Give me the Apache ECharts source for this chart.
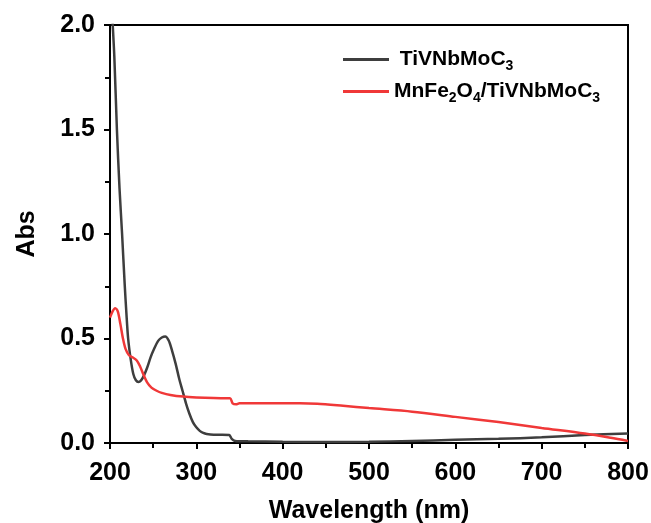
<!DOCTYPE html>
<html>
<head>
<meta charset="utf-8">
<script src="https://cdn.jsdelivr.net/npm/echarts@6/dist/echarts.min.js"></script>
<style>
  html, body { margin: 0; padding: 0; background: #ffffff; }
  #chart { width: 651px; height: 523px; }
</style>
</head>
<body>
<div id="chart"></div>
<script>
// UV-vis absorption spectra

var SERIES_NAMES = ['TiVNbMoC3', 'MnFe2O4/TiVNbMoC3'];
var X_TICKS = [200, 300, 400, 500, 600, 700, 800];
var Y_TICKS = [0.0, 0.5, 1.0, 1.5, 2.0];

// TiVNbMoC3 (dark grey)
var blackWl = [200, 202, 205, 208, 211, 214, 217, 219, 221, 224, 227, 230, 233, 236, 239,
  243, 247, 251, 256, 260, 264, 268, 272, 276, 280, 284, 288, 292, 296, 300, 304, 308,
  312, 320, 330, 338, 341, 345, 360, 400, 450, 500, 550, 600, 650, 700, 750, 800];
var blackAbs = [2.4, 2.1, 1.85, 1.5, 1.22, 1.0, 0.76, 0.62, 0.5, 0.4, 0.33, 0.3, 0.292, 0.3, 0.32,
  0.36, 0.41, 0.45, 0.49, 0.505, 0.51, 0.49, 0.44, 0.38, 0.31, 0.25, 0.19, 0.14, 0.1, 0.075, 0.058, 0.048,
  0.043, 0.04, 0.04, 0.038, 0.02, 0.01, 0.008, 0.006, 0.005, 0.006, 0.01, 0.015, 0.02, 0.027, 0.038, 0.045];

// MnFe2O4/TiVNbMoC3 (red)
var redWl = [200, 203, 206, 209, 212, 215, 218, 222, 226, 231, 235, 239, 243, 248, 254, 260,
  270, 285, 300, 320, 339, 342, 346, 350, 380, 420, 440, 470, 500, 550, 600, 650, 700, 750, 780, 800];
var redAbs = [0.6, 0.63, 0.645, 0.63, 0.57, 0.5, 0.45, 0.42, 0.41, 0.395, 0.365, 0.325, 0.29, 0.265, 0.25, 0.24,
  0.23, 0.222, 0.218, 0.215, 0.214, 0.19, 0.185, 0.19, 0.19, 0.19, 0.188, 0.178, 0.167, 0.15, 0.125, 0.1, 0.072, 0.045, 0.025, 0.01];

var COLORS = { black: '#3e3e3e', red: '#f03838', axis: '#000000' };
var FONT = '"Liberation Sans", Arial, sans-serif';

function pairs(xs, ys) {
  return xs.map(function(x, i) { return [x, ys[i]]; });
}

var legendRich = {
  main: { fontFamily: FONT, fontSize: 21, fontWeight: 'bold', color: '#000', verticalAlign: 'middle' },
  sub: { fontFamily: FONT, fontSize: 14, fontWeight: 'bold', color: '#000', padding: [13, 0, 0, 0], verticalAlign: 'bottom' }
};

function legendFormatter(name) {
  if (name === SERIES_NAMES[0]) return '{main| TiVNbMoC}{sub|3}';
  return '{main|MnFe}{sub|2}{main|O}{sub|4}{main|/TiVNbMoC}{sub|3}';
}

var chart = echarts.init(document.getElementById('chart'));

chart.setOption({
  animation: false,
  backgroundColor: '#ffffff',
  grid: {
    left: 110, right: 23, top: 25, bottom: 80,
    outerBoundsMode: 'none',
    containLabel: false,
    show: true, borderColor: COLORS.axis, borderWidth: 2
  },
  legend: {
    orient: 'vertical',
    left: 338,
    top: 44,
    icon: 'rect',
    itemWidth: 46,
    itemHeight: 3,
    itemGap: 8,
    formatter: legendFormatter,
    textStyle: { rich: legendRich },
    data: SERIES_NAMES
  },
  xAxis: {
    type: 'value',
    min: X_TICKS[0],
    max: X_TICKS[X_TICKS.length - 1],
    interval: 100,
    name: 'Wavelength (nm)',
    nameLocation: 'middle',
    nameGap: 56,
    nameTextStyle: { fontFamily: FONT, fontSize: 25, fontWeight: 'bold', color: '#000' },
    axisLine: { show: true, lineStyle: { color: COLORS.axis, width: 2 } },
    axisTick: { show: true, length: 6, lineStyle: { color: COLORS.axis, width: 2 } },
    minorTick: { show: true, splitNumber: 2, length: 5, lineStyle: { color: COLORS.axis, width: 2 } },
    axisLabel: { fontFamily: FONT, fontSize: 25, fontWeight: 'bold', color: '#000', margin: 18 },
    splitLine: { show: false }
  },
  yAxis: {
    type: 'value',
    min: Y_TICKS[0],
    max: Y_TICKS[Y_TICKS.length - 1],
    interval: 0.5,
    name: 'Abs',
    nameLocation: 'middle',
    nameGap: 70,
    nameTextStyle: { fontFamily: FONT, fontSize: 25, fontWeight: 'bold', color: '#000' },
    axisLine: { show: true, lineStyle: { color: COLORS.axis, width: 2 } },
    axisTick: { show: true, length: 6, lineStyle: { color: COLORS.axis, width: 2 } },
    minorTick: { show: true, splitNumber: 2, length: 5, lineStyle: { color: COLORS.axis, width: 2 } },
    axisLabel: {
      fontFamily: FONT, fontSize: 25, fontWeight: 'bold', color: '#000', margin: 15,
      formatter: function(v) { return v.toFixed(1); }
    },
    splitLine: { show: false }
  },
  series: [
    {
      name: SERIES_NAMES[0],
      type: 'line',
      data: pairs(blackWl, blackAbs),
      symbol: 'none',
      smooth: 0.3,
      clip: true,
      lineStyle: { color: COLORS.black, width: 2.5 },
      itemStyle: { color: COLORS.black },
      z: 3
    },
    {
      name: SERIES_NAMES[1],
      type: 'line',
      data: pairs(redWl, redAbs),
      symbol: 'none',
      smooth: 0.3,
      clip: true,
      lineStyle: { color: COLORS.red, width: 2.5 },
      itemStyle: { color: COLORS.red },
      z: 4
    }
  ]
});
</script>
</body>
</html>
